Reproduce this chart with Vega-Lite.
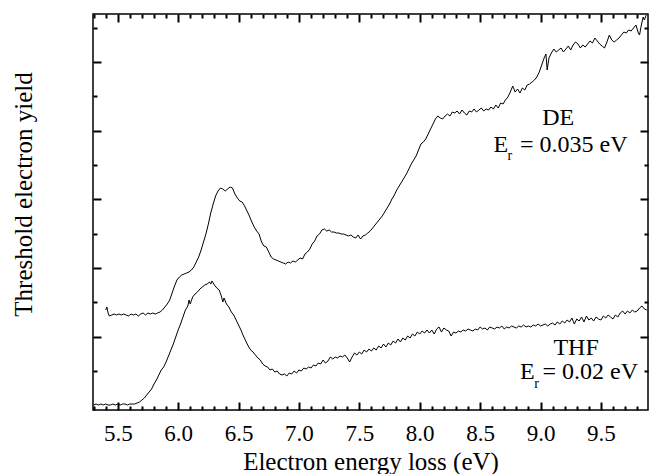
{
  "$schema": "https://vega.github.io/schema/vega-lite/v6.json",
  "width": 555,
  "height": 396,
  "autosize": {"type": "none"},
  "padding": {"left": 93, "top": 14, "right": 1, "bottom": 64},
  "background": "white",
  "config": {
    "view": {"stroke": "black", "strokeWidth": 1.5},
    "axis": {
      "domain": false,
      "grid": false,
      "ticks": true,
      "tickColor": "black",
      "tickWidth": 2,
      "labelFont": "Liberation Serif",
      "labelColor": "black",
      "labelFontSize": 23,
      "labelOverlap": false,
      "labelFlush": false,
      "titleFont": "Liberation Serif",
      "titleFontWeight": "normal",
      "titleColor": "black",
      "titleFontSize": 25
    },
    "text": {"font": "Liberation Serif", "color": "black"}
  },
  "datasets": {
    "curves": [
      {"s":"DE","e":5.40,"y":100},{"s":"DE","e":5.41,"y":103},{"s":"DE","e":5.42,"y":97},{"s":"DE","e":5.43,"y":94},{"s":"DE","e":5.45,"y":95},{"s":"DE","e":5.47,"y":96},{"s":"DE","e":5.49,"y":95},{"s":"DE","e":5.51,"y":96},{"s":"DE","e":5.53,"y":95},{"s":"DE","e":5.55,"y":96},{"s":"DE","e":5.57,"y":95},{"s":"DE","e":5.59,"y":94},{"s":"DE","e":5.61,"y":96},{"s":"DE","e":5.63,"y":95},{"s":"DE","e":5.65,"y":96},{"s":"DE","e":5.67,"y":94},{"s":"DE","e":5.69,"y":96},{"s":"DE","e":5.71,"y":97},{"s":"DE","e":5.73,"y":95},{"s":"DE","e":5.75,"y":97},{"s":"DE","e":5.77,"y":96},{"s":"DE","e":5.79,"y":97},{"s":"DE","e":5.81,"y":96},{"s":"DE","e":5.83,"y":97},{"s":"DE","e":5.85,"y":98},{"s":"DE","e":5.87,"y":100},{"s":"DE","e":5.89,"y":103},{"s":"DE","e":5.91,"y":106},{"s":"DE","e":5.93,"y":110},{"s":"DE","e":5.95,"y":117},{"s":"DE","e":5.97,"y":124},{"s":"DE","e":5.99,"y":130},{"s":"DE","e":6.01,"y":133},{"s":"DE","e":6.03,"y":135},{"s":"DE","e":6.05,"y":136},{"s":"DE","e":6.07,"y":137},{"s":"DE","e":6.09,"y":138},{"s":"DE","e":6.11,"y":140},{"s":"DE","e":6.13,"y":143},{"s":"DE","e":6.15,"y":148},{"s":"DE","e":6.17,"y":153},{"s":"DE","e":6.19,"y":160},{"s":"DE","e":6.21,"y":168},{"s":"DE","e":6.23,"y":176},{"s":"DE","e":6.25,"y":186},{"s":"DE","e":6.27,"y":197},{"s":"DE","e":6.29,"y":206},{"s":"DE","e":6.31,"y":214},{"s":"DE","e":6.33,"y":219},{"s":"DE","e":6.35,"y":222},{"s":"DE","e":6.37,"y":221},{"s":"DE","e":6.39,"y":219},{"s":"DE","e":6.41,"y":221},{"s":"DE","e":6.43,"y":223},{"s":"DE","e":6.45,"y":222},{"s":"DE","e":6.47,"y":216},{"s":"DE","e":6.49,"y":212},{"s":"DE","e":6.51,"y":209},{"s":"DE","e":6.53,"y":208},{"s":"DE","e":6.55,"y":204},{"s":"DE","e":6.57,"y":199},{"s":"DE","e":6.59,"y":194},{"s":"DE","e":6.61,"y":188},{"s":"DE","e":6.63,"y":183},{"s":"DE","e":6.65,"y":179},{"s":"DE","e":6.67,"y":176},{"s":"DE","e":6.69,"y":168},{"s":"DE","e":6.71,"y":164},{"s":"DE","e":6.73,"y":163},{"s":"DE","e":6.75,"y":158},{"s":"DE","e":6.77,"y":153},{"s":"DE","e":6.79,"y":151},{"s":"DE","e":6.81,"y":150},{"s":"DE","e":6.83,"y":149},{"s":"DE","e":6.85,"y":148},{"s":"DE","e":6.87,"y":147},{"s":"DE","e":6.89,"y":146},{"s":"DE","e":6.91,"y":148},{"s":"DE","e":6.93,"y":147},{"s":"DE","e":6.95,"y":149},{"s":"DE","e":6.97,"y":148},{"s":"DE","e":6.99,"y":150},{"s":"DE","e":7.01,"y":152},{"s":"DE","e":7.03,"y":151},{"s":"DE","e":7.05,"y":156},{"s":"DE","e":7.07,"y":158},{"s":"DE","e":7.09,"y":161},{"s":"DE","e":7.11,"y":166},{"s":"DE","e":7.13,"y":169},{"s":"DE","e":7.15,"y":174},{"s":"DE","e":7.17,"y":176},{"s":"DE","e":7.19,"y":180},{"s":"DE","e":7.21,"y":181},{"s":"DE","e":7.23,"y":179},{"s":"DE","e":7.25,"y":180},{"s":"DE","e":7.27,"y":178},{"s":"DE","e":7.29,"y":178},{"s":"DE","e":7.31,"y":177},{"s":"DE","e":7.33,"y":177},{"s":"DE","e":7.35,"y":176},{"s":"DE","e":7.37,"y":176},{"s":"DE","e":7.39,"y":175},{"s":"DE","e":7.41,"y":174},{"s":"DE","e":7.43,"y":175},{"s":"DE","e":7.45,"y":173},{"s":"DE","e":7.47,"y":172},{"s":"DE","e":7.49,"y":175},{"s":"DE","e":7.51,"y":171},{"s":"DE","e":7.53,"y":174},{"s":"DE","e":7.55,"y":175},{"s":"DE","e":7.57,"y":177},{"s":"DE","e":7.59,"y":179},{"s":"DE","e":7.61,"y":182},{"s":"DE","e":7.63,"y":185},{"s":"DE","e":7.65,"y":188},{"s":"DE","e":7.67,"y":191},{"s":"DE","e":7.69,"y":194},{"s":"DE","e":7.71,"y":198},{"s":"DE","e":7.73,"y":202},{"s":"DE","e":7.75,"y":206},{"s":"DE","e":7.77,"y":211},{"s":"DE","e":7.79,"y":215},{"s":"DE","e":7.81,"y":220},{"s":"DE","e":7.83,"y":224},{"s":"DE","e":7.85,"y":228},{"s":"DE","e":7.87,"y":232},{"s":"DE","e":7.89,"y":236},{"s":"DE","e":7.91,"y":241},{"s":"DE","e":7.93,"y":246},{"s":"DE","e":7.95,"y":250},{"s":"DE","e":7.97,"y":254},{"s":"DE","e":7.99,"y":260},{"s":"DE","e":8.01,"y":266},{"s":"DE","e":8.03,"y":268},{"s":"DE","e":8.05,"y":271},{"s":"DE","e":8.07,"y":276},{"s":"DE","e":8.09,"y":281},{"s":"DE","e":8.11,"y":286},{"s":"DE","e":8.13,"y":291},{"s":"DE","e":8.15,"y":294},{"s":"DE","e":8.17,"y":292},{"s":"DE","e":8.19,"y":291},{"s":"DE","e":8.21,"y":294},{"s":"DE","e":8.23,"y":296},{"s":"DE","e":8.25,"y":294},{"s":"DE","e":8.27,"y":298},{"s":"DE","e":8.29,"y":297},{"s":"DE","e":8.31,"y":299},{"s":"DE","e":8.33,"y":296},{"s":"DE","e":8.35,"y":300},{"s":"DE","e":8.37,"y":297},{"s":"DE","e":8.39,"y":295},{"s":"DE","e":8.41,"y":299},{"s":"DE","e":8.43,"y":298},{"s":"DE","e":8.45,"y":301},{"s":"DE","e":8.47,"y":298},{"s":"DE","e":8.49,"y":300},{"s":"DE","e":8.51,"y":302},{"s":"DE","e":8.53,"y":299},{"s":"DE","e":8.55,"y":301},{"s":"DE","e":8.57,"y":300},{"s":"DE","e":8.59,"y":303},{"s":"DE","e":8.61,"y":301},{"s":"DE","e":8.63,"y":305},{"s":"DE","e":8.65,"y":302},{"s":"DE","e":8.67,"y":307},{"s":"DE","e":8.69,"y":306},{"s":"DE","e":8.71,"y":310},{"s":"DE","e":8.73,"y":313},{"s":"DE","e":8.75,"y":318},{"s":"DE","e":8.77,"y":324},{"s":"DE","e":8.79,"y":318},{"s":"DE","e":8.81,"y":321},{"s":"DE","e":8.83,"y":317},{"s":"DE","e":8.85,"y":322},{"s":"DE","e":8.87,"y":320},{"s":"DE","e":8.89,"y":325},{"s":"DE","e":8.91,"y":326},{"s":"DE","e":8.93,"y":328},{"s":"DE","e":8.95,"y":330},{"s":"DE","e":8.97,"y":333},{"s":"DE","e":8.99,"y":338},{"s":"DE","e":9.01,"y":345},{"s":"DE","e":9.03,"y":352},{"s":"DE","e":9.045,"y":356},{"s":"DE","e":9.055,"y":340},{"s":"DE","e":9.07,"y":352},{"s":"DE","e":9.09,"y":357},{"s":"DE","e":9.11,"y":361},{"s":"DE","e":9.13,"y":358},{"s":"DE","e":9.15,"y":360},{"s":"DE","e":9.17,"y":362},{"s":"DE","e":9.19,"y":358},{"s":"DE","e":9.21,"y":361},{"s":"DE","e":9.23,"y":364},{"s":"DE","e":9.25,"y":360},{"s":"DE","e":9.27,"y":365},{"s":"DE","e":9.29,"y":368},{"s":"DE","e":9.31,"y":366},{"s":"DE","e":9.33,"y":362},{"s":"DE","e":9.35,"y":365},{"s":"DE","e":9.37,"y":363},{"s":"DE","e":9.39,"y":366},{"s":"DE","e":9.41,"y":369},{"s":"DE","e":9.43,"y":367},{"s":"DE","e":9.45,"y":372},{"s":"DE","e":9.47,"y":369},{"s":"DE","e":9.49,"y":366},{"s":"DE","e":9.51,"y":364},{"s":"DE","e":9.53,"y":362},{"s":"DE","e":9.55,"y":368},{"s":"DE","e":9.57,"y":375},{"s":"DE","e":9.59,"y":370},{"s":"DE","e":9.61,"y":368},{"s":"DE","e":9.63,"y":370},{"s":"DE","e":9.65,"y":372},{"s":"DE","e":9.67,"y":375},{"s":"DE","e":9.69,"y":378},{"s":"DE","e":9.71,"y":377},{"s":"DE","e":9.73,"y":380},{"s":"DE","e":9.75,"y":379},{"s":"DE","e":9.77,"y":382},{"s":"DE","e":9.79,"y":385},{"s":"DE","e":9.81,"y":377},{"s":"DE","e":9.82,"y":375},{"s":"DE","e":9.835,"y":385},{"s":"DE","e":9.85,"y":393},{"s":"DE","e":9.86,"y":390},{"s":"DE","e":9.875,"y":395},
      {"s":"THF","e":5.30,"y":5},{"s":"THF","e":5.32,"y":6},{"s":"THF","e":5.34,"y":5},{"s":"THF","e":5.36,"y":6},{"s":"THF","e":5.38,"y":5},{"s":"THF","e":5.40,"y":6},{"s":"THF","e":5.42,"y":5},{"s":"THF","e":5.44,"y":5},{"s":"THF","e":5.46,"y":6},{"s":"THF","e":5.48,"y":5},{"s":"THF","e":5.50,"y":6},{"s":"THF","e":5.52,"y":5},{"s":"THF","e":5.54,"y":6},{"s":"THF","e":5.56,"y":6},{"s":"THF","e":5.58,"y":5},{"s":"THF","e":5.60,"y":6},{"s":"THF","e":5.62,"y":6},{"s":"THF","e":5.64,"y":6},{"s":"THF","e":5.66,"y":7},{"s":"THF","e":5.68,"y":8},{"s":"THF","e":5.70,"y":10},{"s":"THF","e":5.72,"y":12},{"s":"THF","e":5.74,"y":15},{"s":"THF","e":5.76,"y":18},{"s":"THF","e":5.78,"y":21},{"s":"THF","e":5.80,"y":26},{"s":"THF","e":5.82,"y":30},{"s":"THF","e":5.84,"y":35},{"s":"THF","e":5.86,"y":40},{"s":"THF","e":5.88,"y":43},{"s":"THF","e":5.90,"y":48},{"s":"THF","e":5.92,"y":54},{"s":"THF","e":5.94,"y":60},{"s":"THF","e":5.96,"y":66},{"s":"THF","e":5.98,"y":73},{"s":"THF","e":6.00,"y":80},{"s":"THF","e":6.02,"y":86},{"s":"THF","e":6.04,"y":93},{"s":"THF","e":6.06,"y":100},{"s":"THF","e":6.08,"y":104},{"s":"THF","e":6.09,"y":110},{"s":"THF","e":6.10,"y":106},{"s":"THF","e":6.12,"y":113},{"s":"THF","e":6.14,"y":116},{"s":"THF","e":6.16,"y":118},{"s":"THF","e":6.18,"y":121},{"s":"THF","e":6.20,"y":123},{"s":"THF","e":6.22,"y":125},{"s":"THF","e":6.24,"y":126},{"s":"THF","e":6.26,"y":128},{"s":"THF","e":6.27,"y":126},{"s":"THF","e":6.28,"y":129},{"s":"THF","e":6.30,"y":125},{"s":"THF","e":6.32,"y":122},{"s":"THF","e":6.34,"y":120},{"s":"THF","e":6.36,"y":113},{"s":"THF","e":6.37,"y":108},{"s":"THF","e":6.38,"y":112},{"s":"THF","e":6.40,"y":106},{"s":"THF","e":6.42,"y":103},{"s":"THF","e":6.44,"y":98},{"s":"THF","e":6.46,"y":95},{"s":"THF","e":6.48,"y":90},{"s":"THF","e":6.50,"y":85},{"s":"THF","e":6.52,"y":80},{"s":"THF","e":6.54,"y":74},{"s":"THF","e":6.56,"y":69},{"s":"THF","e":6.58,"y":64},{"s":"THF","e":6.60,"y":60},{"s":"THF","e":6.62,"y":58},{"s":"THF","e":6.64,"y":55},{"s":"THF","e":6.66,"y":52},{"s":"THF","e":6.68,"y":50},{"s":"THF","e":6.70,"y":46},{"s":"THF","e":6.72,"y":44},{"s":"THF","e":6.74,"y":43},{"s":"THF","e":6.76,"y":40},{"s":"THF","e":6.78,"y":41},{"s":"THF","e":6.80,"y":38},{"s":"THF","e":6.82,"y":39},{"s":"THF","e":6.84,"y":36},{"s":"THF","e":6.86,"y":35},{"s":"THF","e":6.88,"y":36},{"s":"THF","e":6.90,"y":34},{"s":"THF","e":6.92,"y":37},{"s":"THF","e":6.94,"y":36},{"s":"THF","e":6.96,"y":39},{"s":"THF","e":6.98,"y":37},{"s":"THF","e":7.00,"y":40},{"s":"THF","e":7.02,"y":39},{"s":"THF","e":7.04,"y":42},{"s":"THF","e":7.06,"y":41},{"s":"THF","e":7.08,"y":43},{"s":"THF","e":7.10,"y":42},{"s":"THF","e":7.12,"y":45},{"s":"THF","e":7.14,"y":44},{"s":"THF","e":7.16,"y":47},{"s":"THF","e":7.18,"y":46},{"s":"THF","e":7.20,"y":50},{"s":"THF","e":7.22,"y":47},{"s":"THF","e":7.24,"y":49},{"s":"THF","e":7.26,"y":53},{"s":"THF","e":7.28,"y":51},{"s":"THF","e":7.30,"y":53},{"s":"THF","e":7.32,"y":52},{"s":"THF","e":7.34,"y":54},{"s":"THF","e":7.36,"y":53},{"s":"THF","e":7.38,"y":55},{"s":"THF","e":7.40,"y":52},{"s":"THF","e":7.42,"y":48},{"s":"THF","e":7.44,"y":53},{"s":"THF","e":7.46,"y":57},{"s":"THF","e":7.48,"y":55},{"s":"THF","e":7.50,"y":58},{"s":"THF","e":7.52,"y":56},{"s":"THF","e":7.54,"y":60},{"s":"THF","e":7.56,"y":58},{"s":"THF","e":7.58,"y":61},{"s":"THF","e":7.60,"y":59},{"s":"THF","e":7.62,"y":62},{"s":"THF","e":7.64,"y":60},{"s":"THF","e":7.66,"y":64},{"s":"THF","e":7.68,"y":62},{"s":"THF","e":7.70,"y":66},{"s":"THF","e":7.72,"y":63},{"s":"THF","e":7.74,"y":67},{"s":"THF","e":7.76,"y":65},{"s":"THF","e":7.78,"y":69},{"s":"THF","e":7.80,"y":67},{"s":"THF","e":7.82,"y":71},{"s":"THF","e":7.84,"y":68},{"s":"THF","e":7.86,"y":72},{"s":"THF","e":7.88,"y":70},{"s":"THF","e":7.90,"y":74},{"s":"THF","e":7.92,"y":72},{"s":"THF","e":7.94,"y":76},{"s":"THF","e":7.96,"y":74},{"s":"THF","e":7.98,"y":78},{"s":"THF","e":8.00,"y":76},{"s":"THF","e":8.02,"y":79},{"s":"THF","e":8.04,"y":77},{"s":"THF","e":8.06,"y":80},{"s":"THF","e":8.08,"y":77},{"s":"THF","e":8.10,"y":80},{"s":"THF","e":8.12,"y":76},{"s":"THF","e":8.14,"y":81},{"s":"THF","e":8.16,"y":83},{"s":"THF","e":8.18,"y":78},{"s":"THF","e":8.20,"y":82},{"s":"THF","e":8.22,"y":80},{"s":"THF","e":8.24,"y":79},{"s":"THF","e":8.26,"y":74},{"s":"THF","e":8.28,"y":78},{"s":"THF","e":8.30,"y":77},{"s":"THF","e":8.32,"y":79},{"s":"THF","e":8.34,"y":78},{"s":"THF","e":8.36,"y":80},{"s":"THF","e":8.38,"y":79},{"s":"THF","e":8.40,"y":81},{"s":"THF","e":8.42,"y":80},{"s":"THF","e":8.44,"y":79},{"s":"THF","e":8.46,"y":81},{"s":"THF","e":8.48,"y":80},{"s":"THF","e":8.50,"y":83},{"s":"THF","e":8.52,"y":81},{"s":"THF","e":8.54,"y":82},{"s":"THF","e":8.56,"y":80},{"s":"THF","e":8.58,"y":83},{"s":"THF","e":8.60,"y":82},{"s":"THF","e":8.62,"y":81},{"s":"THF","e":8.64,"y":83},{"s":"THF","e":8.66,"y":82},{"s":"THF","e":8.68,"y":84},{"s":"THF","e":8.70,"y":81},{"s":"THF","e":8.72,"y":83},{"s":"THF","e":8.74,"y":82},{"s":"THF","e":8.76,"y":84},{"s":"THF","e":8.78,"y":83},{"s":"THF","e":8.80,"y":82},{"s":"THF","e":8.82,"y":84},{"s":"THF","e":8.84,"y":83},{"s":"THF","e":8.86,"y":85},{"s":"THF","e":8.88,"y":83},{"s":"THF","e":8.90,"y":84},{"s":"THF","e":8.92,"y":83},{"s":"THF","e":8.94,"y":85},{"s":"THF","e":8.96,"y":84},{"s":"THF","e":8.98,"y":86},{"s":"THF","e":9.00,"y":84},{"s":"THF","e":9.02,"y":85},{"s":"THF","e":9.04,"y":86},{"s":"THF","e":9.06,"y":84},{"s":"THF","e":9.08,"y":86},{"s":"THF","e":9.10,"y":87},{"s":"THF","e":9.12,"y":85},{"s":"THF","e":9.14,"y":88},{"s":"THF","e":9.16,"y":86},{"s":"THF","e":9.18,"y":89},{"s":"THF","e":9.20,"y":87},{"s":"THF","e":9.22,"y":90},{"s":"THF","e":9.24,"y":88},{"s":"THF","e":9.26,"y":92},{"s":"THF","e":9.28,"y":86},{"s":"THF","e":9.30,"y":91},{"s":"THF","e":9.32,"y":89},{"s":"THF","e":9.34,"y":93},{"s":"THF","e":9.36,"y":88},{"s":"THF","e":9.38,"y":94},{"s":"THF","e":9.40,"y":90},{"s":"THF","e":9.42,"y":92},{"s":"THF","e":9.44,"y":89},{"s":"THF","e":9.46,"y":93},{"s":"THF","e":9.48,"y":91},{"s":"THF","e":9.50,"y":90},{"s":"THF","e":9.52,"y":94},{"s":"THF","e":9.54,"y":92},{"s":"THF","e":9.56,"y":95},{"s":"THF","e":9.58,"y":93},{"s":"THF","e":9.60,"y":91},{"s":"THF","e":9.62,"y":95},{"s":"THF","e":9.64,"y":93},{"s":"THF","e":9.66,"y":97},{"s":"THF","e":9.68,"y":99},{"s":"THF","e":9.70,"y":96},{"s":"THF","e":9.72,"y":99},{"s":"THF","e":9.74,"y":97},{"s":"THF","e":9.76,"y":100},{"s":"THF","e":9.78,"y":98},{"s":"THF","e":9.80,"y":99},{"s":"THF","e":9.82,"y":102},{"s":"THF","e":9.84,"y":104},{"s":"THF","e":9.86,"y":101},{"s":"THF","e":9.88,"y":100}
    ],
    "notes": [
      {"role":"name","e":9.147,"y":292,"t":"DE"},
      {"role":"name","e":9.295,"y":62,"t":"THF"},
      {"role":"E","e":8.61,"y":265,"t":"E"},
      {"role":"sub","e":8.727,"y":254,"t":"r"},
      {"role":"rest","e":8.83,"y":265,"t":"= 0.035 eV"},
      {"role":"E","e":8.83,"y":38,"t":"E"},
      {"role":"sub","e":8.948,"y":26,"t":"r"},
      {"role":"rest","e":9.017,"y":38,"t":"= 0.02 eV"}
    ]
  },
  "resolve": {"scale": {"x": "independent", "y": "independent"}, "axis": {"x": "independent", "y": "independent"}},
  "layer": [
    {
      "data": {"name": "curves"},
      "mark": {"type": "line", "color": "black", "strokeWidth": 1, "clip": true},
      "encoding": {
        "x": {
          "field": "e", "type": "quantitative",
          "scale": {"domain": [5.295, 9.89], "nice": false, "zero": false},
          "axis": {
            "orient": "bottom",
            "values": [5.5,6.0,6.5,7.0,7.5,8.0,8.5,9.0,9.5],
            "format": ".1f",
            "tickSize": -8,
            "labelPadding": 20,
            "title": "Electron energy loss (eV)",
            "titleY": 51,
            "titleBaseline": "middle"
          }
        },
        "y": {
          "field": "y", "type": "quantitative",
          "scale": {"domain": [0, 396], "nice": false, "zero": false},
          "axis": {
            "orient": "left",
            "values": [73.33,142,210.67,279.33,348],
            "labels": false,
            "tickSize": -8,
            "title": "Threshold electron yield",
            "titleX": -70,
            "titleY": 180,
            "titleBaseline": "middle",
            "titleAngle": -90
          }
        },
        "detail": {"field": "s"}
      }
    },
    {
      "data": {"name": "notes"},
      "transform": [{"filter": "datum.role == 'name'"}],
      "mark": {"type": "text", "fontSize": 24, "baseline": "middle", "align": "center", "font": "Liberation Serif"},
      "encoding": {
        "x": {
          "field": "e", "type": "quantitative",
          "scale": {"domain": [5.295, 9.89], "nice": false, "zero": false},
          "axis": {"orient": "top", "values": [5.5,6.0,6.5,7.0,7.5,8.0,8.5,9.0,9.5], "labels": false, "title": null, "tickSize": -8}
        },
        "y": {
          "field": "y", "type": "quantitative",
          "scale": {"domain": [0, 396], "nice": false, "zero": false},
          "axis": {"orient": "right", "values": [73.33,142,210.67,279.33,348], "labels": false, "title": null, "tickSize": -8}
        },
        "text": {"field": "t"}
      }
    },
    {
      "data": {"name": "notes"},
      "transform": [{"filter": "datum.role == 'E' || datum.role == 'rest'"}],
      "mark": {"type": "text", "fontSize": 24, "baseline": "middle", "align": "left", "font": "Liberation Serif"},
      "encoding": {
        "x": {
          "field": "e", "type": "quantitative",
          "scale": {"domain": [5.295, 9.89], "nice": false, "zero": false},
          "axis": {"orient": "bottom", "values": [5.3,5.4,5.6,5.7,5.8,5.9,6.1,6.2,6.3,6.4,6.6,6.7,6.8,6.9,7.1,7.2,7.3,7.4,7.6,7.7,7.8,7.9,8.1,8.2,8.3,8.4,8.6,8.7,8.8,8.9,9.1,9.2,9.3,9.4,9.6,9.7,9.8], "labels": false, "title": null, "tickSize": -4}
        },
        "y": {
          "field": "y", "type": "quantitative",
          "scale": {"domain": [0, 396], "nice": false, "zero": false},
          "axis": {"orient": "left", "values": [39,107.67,176.33,245,313.67,382.33], "labels": false, "title": null, "tickSize": -4}
        },
        "text": {"field": "t"}
      }
    },
    {
      "data": {"name": "notes"},
      "transform": [{"filter": "datum.role == 'sub'"}],
      "mark": {"type": "text", "fontSize": 14, "baseline": "middle", "align": "left", "font": "Liberation Serif"},
      "encoding": {
        "x": {
          "field": "e", "type": "quantitative",
          "scale": {"domain": [5.295, 9.89], "nice": false, "zero": false},
          "axis": {"orient": "top", "values": [5.3,5.4,5.6,5.7,5.8,5.9,6.1,6.2,6.3,6.4,6.6,6.7,6.8,6.9,7.1,7.2,7.3,7.4,7.6,7.7,7.8,7.9,8.1,8.2,8.3,8.4,8.6,8.7,8.8,8.9,9.1,9.2,9.3,9.4,9.6,9.7,9.8], "labels": false, "title": null, "tickSize": -4}
        },
        "y": {
          "field": "y", "type": "quantitative",
          "scale": {"domain": [0, 396], "nice": false, "zero": false},
          "axis": {"orient": "right", "values": [39,107.67,176.33,245,313.67,382.33], "labels": false, "title": null, "tickSize": -4}
        },
        "text": {"field": "t"}
      }
    }
  ]
}
